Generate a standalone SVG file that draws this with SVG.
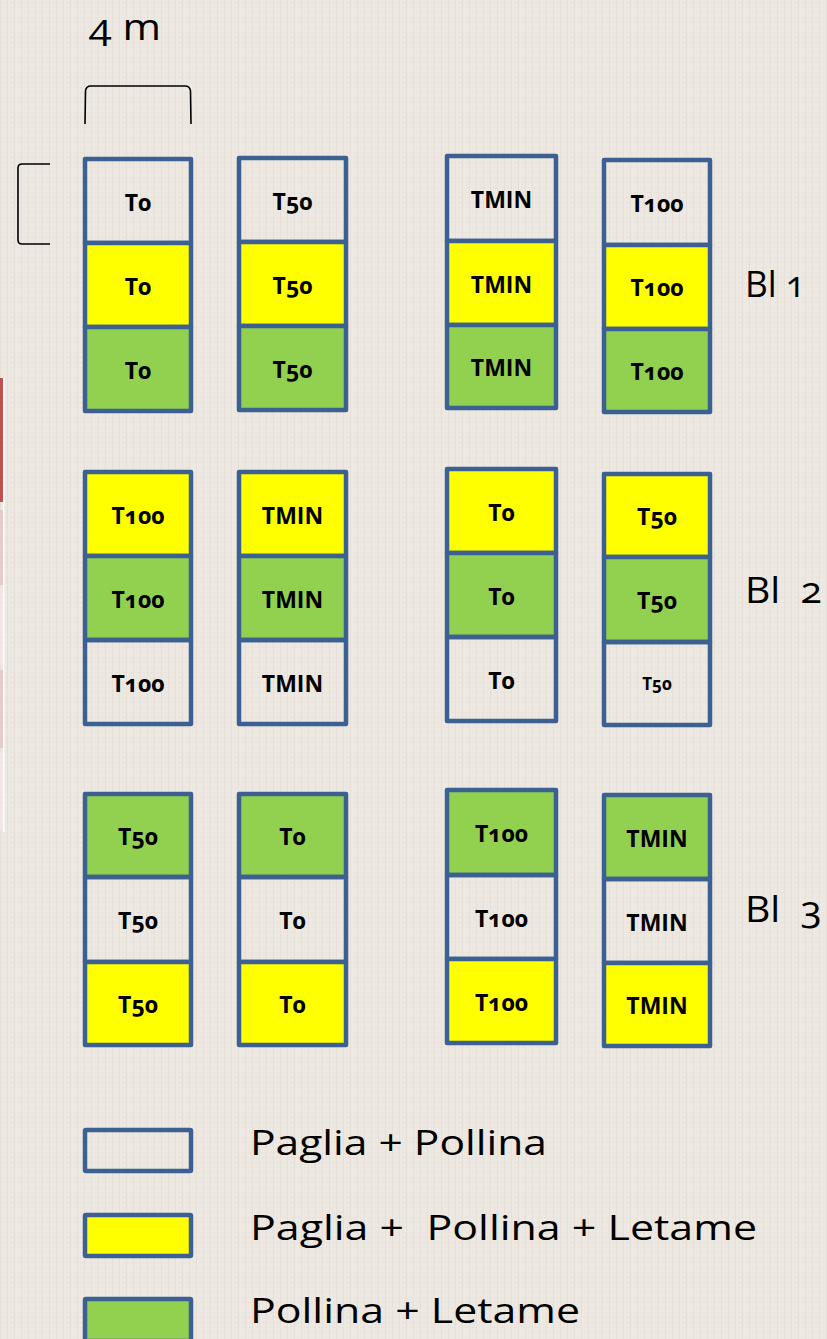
<svg xmlns="http://www.w3.org/2000/svg" width="827" height="1339" viewBox="0 0 827 1339">
<style>
.c{stroke:#3B6091;stroke-width:4.5;stroke-linejoin:round}
.w{fill:none}
.y{fill:#FFFF00}
.g{fill:#92D050}
.t{font-family:"Open Sans","DejaVu Sans",sans-serif;font-weight:bold;font-size:23px;fill:#000;text-anchor:middle;font-variant-numeric:oldstyle-nums}
.s{font-size:17px}
.lab{font-family:"Open Sans","DejaVu Sans",sans-serif;font-size:36px;fill:#000;font-variant-numeric:oldstyle-nums}
.leg{font-family:"Open Sans","DejaVu Sans",sans-serif;font-size:34px;fill:#000}
.br{fill:none;stroke:#000;stroke-width:1.6}
</style>
<defs>
<pattern id="tex" width="7" height="5" patternUnits="userSpaceOnUse">
<rect width="7" height="5" fill="#EDE9E2"/>
<rect x="0" y="0" width="1" height="5" fill="#E3DED5" opacity="0.7"/>
<rect x="3" y="2" width="4" height="1" fill="#E5E0D7" opacity="0.6"/>
</pattern>
</defs>
<rect width="827" height="1339" fill="url(#tex)"/>
<g id="edge-table">
<rect x="0" y="378" width="3" height="124" fill="#C0504D"/>
<rect x="0" y="510" width="3" height="75" fill="#E5CBCA"/>
<rect x="0" y="588" width="3" height="77" fill="#F1E6E4"/>
<rect x="0" y="670" width="3" height="78" fill="#E5CBCA"/>
<rect x="0" y="753" width="3" height="77" fill="#F1E6E4"/>
<rect x="3" y="378" width="1.5" height="454" fill="#FFFFFF"/>
</g>
<g id="dimensions">
<text x="89" y="40" class="lab" font-size="34" textLength="72" lengthAdjust="spacingAndGlyphs">4 m</text>
<path class="br" d="M85,124 L85.5,91 Q86,86 91,86 L185,86 Q190,86 190.5,91 L191,124"/>
<path class="br" d="M50,164 L22,164 Q18,164 18,168 L18,240 Q18,244 22,244 L50,244"/>
</g>
<g id="connectors"/>
<!-- Block 1 -->
<g id="b1-a">
<rect class="c w" x="85" y="159" width="106" height="84"/><rect class="c y" x="85" y="243" width="106" height="84"/><rect class="c g" x="85" y="327" width="106" height="84"/>
<text class="t" x="138" y="210.5">T0</text><text class="t" x="138" y="294.5">T0</text><text class="t" x="138" y="378.5">T0</text>
</g>
<g id="b1-b">
<rect class="c w" x="239" y="158" width="107" height="84"/><rect class="c y" x="239" y="242" width="107" height="84"/><rect class="c g" x="239" y="326" width="107" height="84"/>
<text class="t" x="292.5" y="209.5">T50</text><text class="t" x="292.5" y="293.5">T50</text><text class="t" x="292.5" y="377.5">T50</text>
</g>
<g id="b1-c">
<rect class="c w" x="447" y="156" width="109" height="85"/><rect class="c y" x="447" y="241" width="109" height="84"/><rect class="c g" x="447" y="325" width="109" height="83"/>
<text class="t" x="501.5" y="207.5">TMIN</text><text class="t" x="501.5" y="292.5">TMIN</text><text class="t" x="501.5" y="376">TMIN</text>
</g>
<g id="b1-d">
<rect class="c w" x="604" y="160" width="106" height="85"/><rect class="c y" x="604" y="245" width="106" height="84"/><rect class="c g" x="604" y="329" width="106" height="83"/>
<text class="t" x="657" y="212">T100</text><text class="t" x="657" y="296">T100</text><text class="t" x="657" y="380">T100</text>
</g>
<!-- Block 2 -->
<g id="b2-a">
<rect class="c y" x="85" y="472" width="106" height="84"/><rect class="c g" x="85" y="556" width="106" height="84"/><rect class="c w" x="85" y="640" width="106" height="84"/>
<text class="t" x="138" y="523.5">T100</text><text class="t" x="138" y="607.5">T100</text><text class="t" x="138" y="691.5">T100</text>
</g>
<g id="b2-b">
<rect class="c y" x="239" y="472" width="107" height="84"/><rect class="c g" x="239" y="556" width="107" height="84"/><rect class="c w" x="239" y="640" width="107" height="84"/>
<text class="t" x="292.5" y="523.5">TMIN</text><text class="t" x="292.5" y="607.5">TMIN</text><text class="t" x="292.5" y="691.5">TMIN</text>
</g>
<g id="b2-c">
<rect class="c y" x="447" y="469" width="109" height="84"/><rect class="c g" x="447" y="553" width="109" height="84"/><rect class="c w" x="447" y="637" width="109" height="84"/>
<text class="t" x="501.5" y="520.5">T0</text><text class="t" x="501.5" y="604.5">T0</text><text class="t" x="501.5" y="688.5">T0</text>
</g>
<g id="b2-d">
<rect class="c y" x="604" y="474" width="106" height="83"/><rect class="c g" x="604" y="557" width="106" height="85"/><rect class="c w" x="604" y="642" width="106" height="83"/>
<text class="t" x="657" y="525">T50</text><text class="t" x="657" y="609">T50</text><text class="t s" x="657" y="690">T50</text>
</g>
<!-- Block 3 -->
<g id="b3-a">
<rect class="c g" x="85" y="794" width="106" height="83"/><rect class="c w" x="85" y="877" width="106" height="85"/><rect class="c y" x="85" y="962" width="106" height="83"/>
<text class="t" x="138" y="845">T50</text><text class="t" x="138" y="929">T50</text><text class="t" x="138" y="1013">T50</text>
</g>
<g id="b3-b">
<rect class="c g" x="239" y="794" width="107" height="83"/><rect class="c w" x="239" y="877" width="107" height="85"/><rect class="c y" x="239" y="962" width="107" height="83"/>
<text class="t" x="292.5" y="845">T0</text><text class="t" x="292.5" y="929">T0</text><text class="t" x="292.5" y="1013">T0</text>
</g>
<g id="b3-c">
<rect class="c g" x="447" y="790" width="109" height="85"/><rect class="c w" x="447" y="875" width="109" height="84"/><rect class="c y" x="447" y="959" width="109" height="84"/>
<text class="t" x="501.5" y="842">T100</text><text class="t" x="501.5" y="926.5">T100</text><text class="t" x="501.5" y="1010.5">T100</text>
</g>
<g id="b3-d">
<rect class="c g" x="604" y="795" width="106" height="84"/><rect class="c w" x="604" y="879" width="106" height="84"/><rect class="c y" x="604" y="963" width="106" height="83"/>
<text class="t" x="657" y="846.5">TMIN</text><text class="t" x="657" y="930.5">TMIN</text><text class="t" x="657" y="1014">TMIN</text>
</g>
<g id="block-labels">
<text class="lab" x="745" y="297" textLength="60" lengthAdjust="spacingAndGlyphs">Bl 1</text>
<text class="lab" x="745" y="603" xml:space="preserve" textLength="77" lengthAdjust="spacingAndGlyphs">Bl  2</text>
<text class="lab" x="745" y="922" xml:space="preserve" textLength="77" lengthAdjust="spacingAndGlyphs">Bl  3</text>
</g>
<g id="legend">
<g id="leg-1"><rect class="c w" x="85" y="1130" width="106" height="41" rx="1"/><text class="leg" x="250" y="1155" textLength="297" lengthAdjust="spacingAndGlyphs">Paglia + Pollina</text></g>
<g id="leg-2"><rect class="c y" x="85" y="1215" width="106" height="41" rx="1"/><text class="leg" x="250" y="1240" xml:space="preserve" textLength="507" lengthAdjust="spacingAndGlyphs">Paglia +  Pollina + Letame</text></g>
<g id="leg-3"><rect class="c g" x="85" y="1299" width="106" height="42" rx="1"/><text class="leg" x="250" y="1323" textLength="330" lengthAdjust="spacingAndGlyphs">Pollina + Letame</text></g>
</g>
</svg>
